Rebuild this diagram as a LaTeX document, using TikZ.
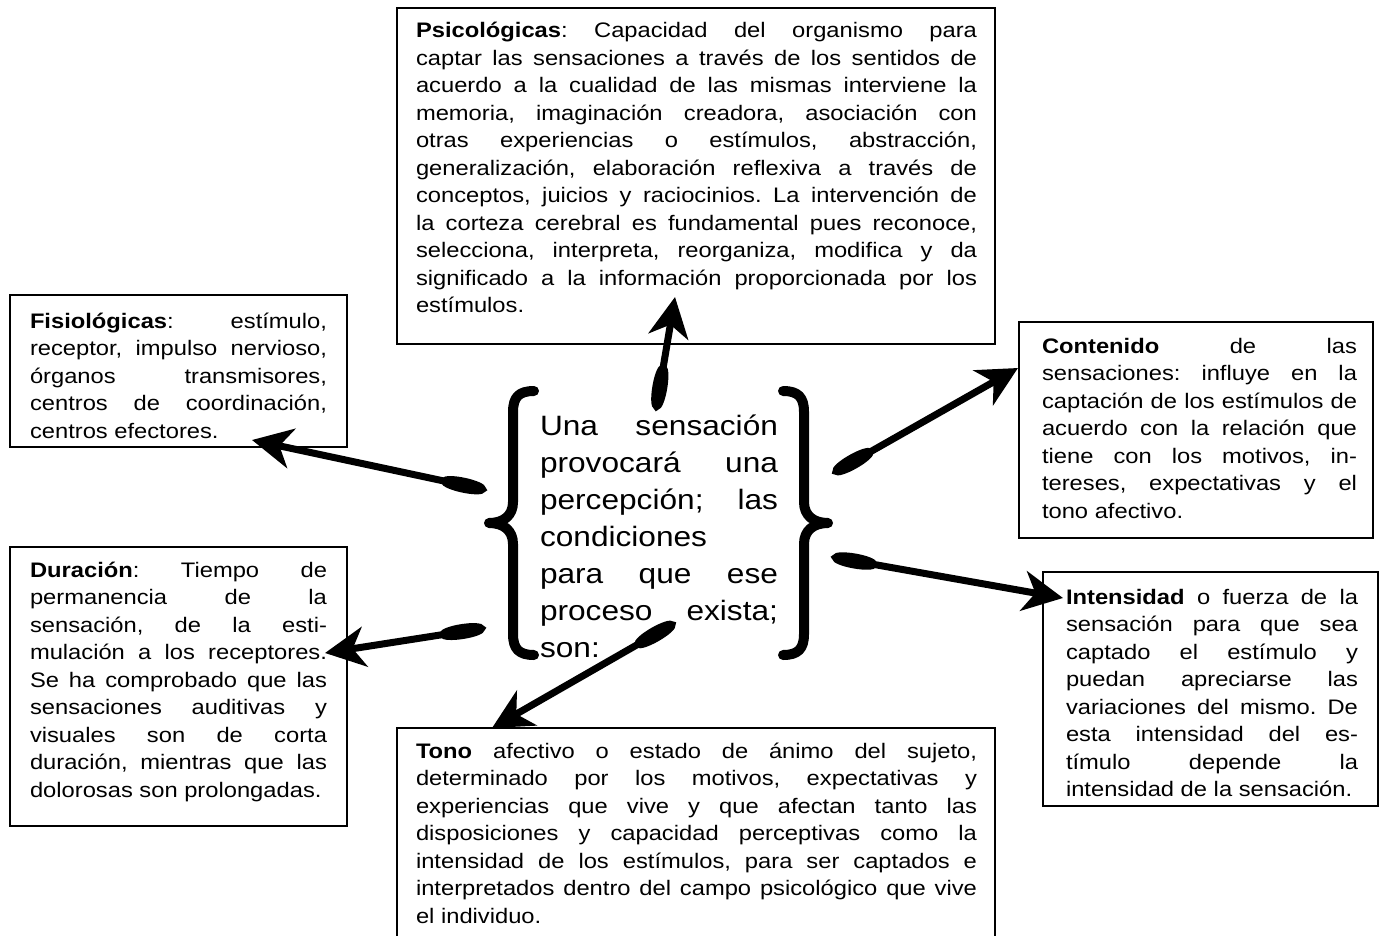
\documentclass[tikz,border=0pt]{standalone}
\usepackage{fontspec}
\setmainfont{Liberation Sans}[FakeStretch=1.13]
\usetikzlibrary{arrows.meta}
\tolerance=10000
\hyphenpenalty=10000
\hbadness=10000
\frenchspacing
\tikzset{
  frame/.style={draw=black, line width=1.6pt, anchor=north west, inner sep=0pt, outer sep=0pt},
  boxtext/.style={anchor=base west, inner sep=0pt, outer sep=0pt, align=justify, font=\fontsize{21}{27.5}\selectfont},
  midtext/.style={anchor=base west, inner sep=0pt, outer sep=0pt, align=justify, font=\fontsize{28}{37}\selectfont},
  link/.style={line width=7pt, {Ellipse[length=46pt,width=15pt]}-{Stealth[length=40pt,width=40pt,inset=12pt]}},
  bracestroke/.style={line width=10pt, line cap=round, line join=round},
}
\begin{document}
\begin{tikzpicture}[x=1pt,y=-1pt]
\useasboundingbox (0,0) rectangle (1386,936);
\clip (0,0) rectangle (1386,936);

% frames
\node[frame, minimum width=598pt, minimum height=336pt] (psi) at (397,8) {};
\node[frame, minimum width=337pt, minimum height=152pt] (fis) at (10,295) {};
\node[frame, minimum width=337pt, minimum height=279pt] (dur) at (10,547) {};
\node[frame, minimum width=354pt, minimum height=216pt] (con) at (1019,322) {};
\node[frame, minimum width=335pt, minimum height=234pt] (int) at (1043,572) {};
\node[frame, minimum width=598pt, minimum height=230pt] (ton) at (397,728) {};

% texts
\node[boxtext, text width=561pt] (psitxt) at (416,38) {\textbf{Psicológicas}: Capacidad del organismo para\linebreak
captar las sensaciones a través de los sentidos de\linebreak
acuerdo a la cualidad de las mismas interviene la\linebreak
memoria, imaginación creadora, asociación con\linebreak
otras experiencias o estímulos, abstracción,\linebreak
generalización, elaboración reflexiva a través de\linebreak
conceptos, juicios y raciocinios. La intervención de\linebreak
la corteza cerebral es fundamental pues reconoce,\linebreak
selecciona, interpreta, reorganiza, modifica y da\linebreak
significado a la información proporcionada por los\linebreak
estímulos.};

\node[boxtext, text width=297pt] (fistxt) at (30,328) {\textbf{Fisiológicas}: estímulo,\linebreak
receptor, impulso nervioso,\linebreak
órganos transmisores,\linebreak
centros de coordinación,\linebreak
centros efectores.};

\node[boxtext, text width=297pt] (durtxt) at (30,577) {\textbf{Duración}: Tiempo de\linebreak
permanencia de la\linebreak
sensación, de la esti-\linebreak
mulación a los receptores.\linebreak
Se ha comprobado que las\linebreak
sensaciones auditivas y\linebreak
visuales son de corta\linebreak
duración, mientras que las\linebreak
dolorosas son prolongadas.};

\node[boxtext, text width=315pt] (contxt) at (1042,353) {\textbf{Contenido} de las\linebreak
sensaciones: influye en la\linebreak
captación de los estímulos de\linebreak
acuerdo con la relación que\linebreak
tiene con los motivos, in-\linebreak
tereses, expectativas y el\linebreak
tono afectivo.};

\node[boxtext, text width=292pt] (inttxt) at (1066,604) {\textbf{Intensidad} o fuerza de la\linebreak
sensación para que sea\linebreak
captado el estímulo y\linebreak
puedan apreciarse las\linebreak
variaciones del mismo. De\linebreak
esta intensidad del es-\linebreak
tímulo depende la\linebreak
intensidad de la sensación.};

\node[boxtext, text width=561pt] (tontxt) at (416,758) {\textbf{Tono} afectivo o estado de ánimo del sujeto,\linebreak
determinado por los motivos, expectativas y\linebreak
experiencias que vive y que afectan tanto las\linebreak
disposiciones y capacidad perceptivas como la\linebreak
intensidad de los estímulos, para ser captados e\linebreak
interpretados dentro del campo psicológico que vive\linebreak
el individuo.};

\node[midtext, text width=238pt] (mid) at (540,435) {Una sensación\linebreak
provocará una\linebreak
percepción; las\linebreak
condiciones\newline
para que ese\linebreak
proceso exista;\linebreak
son:};

% braces
\draw[bracestroke] (534,391) .. controls (519,391) and (513,397) .. (513,412) -- (513,502)
  .. controls (513,516) and (503,523) .. (489,523)
  .. controls (503,523) and (513,530) .. (513,544) -- (513,634)
  .. controls (513,649) and (519,655) .. (534,655);
\draw[bracestroke] (783,391) .. controls (798,391) and (804,397) .. (804,412) -- (804,502)
  .. controls (804,516) and (814,523) .. (828,523)
  .. controls (814,523) and (804,530) .. (804,544) -- (804,634)
  .. controls (804,649) and (798,655) .. (783,655);

% connector ends
\coordinate (t1) at (656,410); \coordinate (h1) at (675,297);
\coordinate (t2) at (486,490); \coordinate (h2) at (252,440);
\coordinate (t3) at (833,473); \coordinate (h3) at (1018,368);
\coordinate (t4) at (832,557); \coordinate (h4) at (1063,598);
\coordinate (t5) at (485,628); \coordinate (h5) at (325,653);
\coordinate (t6) at (675,623); \coordinate (h6) at (492,728);

\draw[link] (t1) -- (h1);
\draw[link] (t2) -- (h2);
\draw[link] (t3) -- (h3);
\draw[link] (t4) -- (h4);
\draw[link] (t5) -- (h5);
\draw[link] (t6) -- (h6);
\end{tikzpicture}
\end{document}
